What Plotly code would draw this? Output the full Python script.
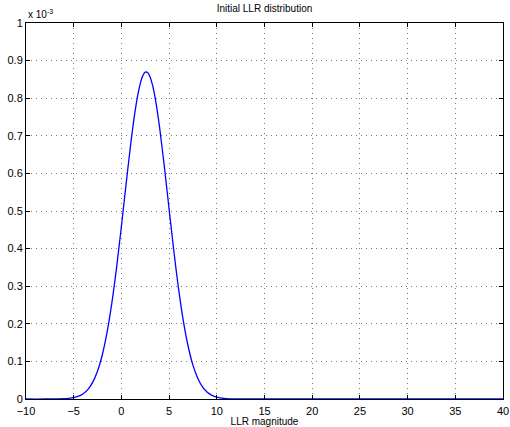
import plotly.graph_objs as go

# LLR magnitude samples and the pdf (in units of 1e-3)
llr_x = [-10, -8, -6, -5.5, -5, -4.5, -4, -3.5, -3, -2.5, -2, -1.5, -1, -0.5,
         0, 0.5, 1, 1.25, 1.5, 1.75, 2, 2.25, 2.5, 2.75, 3, 3.25, 3.5, 3.75,
         4, 4.5, 5, 5.5, 6, 6.5, 7, 7.5, 8, 8.5, 9, 9.5, 10, 10.5, 11, 12,
         14, 20, 30, 40]
llr_pdf_e3 = [0, 0, 0.0008, 0.0018, 0.0037, 0.0074, 0.0142, 0.0258, 0.0449,
              0.0745, 0.1177, 0.1777, 0.2556, 0.3508, 0.4592, 0.5734, 0.6830,
              0.7323, 0.7760, 0.8126, 0.8409, 0.8600, 0.8692, 0.8681, 0.8569,
              0.8360, 0.8059, 0.7678, 0.7229, 0.6185, 0.5048, 0.3929, 0.2917,
              0.2066, 0.1396, 0.0900, 0.0553, 0.0324, 0.0181, 0.0097, 0.0049,
              0.0024, 0.0011, 0.0002, 0, 0, 0, 0]

x_ticks = [-10, -5, 0, 5, 10, 15, 20, 25, 30, 35, 40]
y_ticks = [0, 0.1, 0.2, 0.3, 0.4, 0.5, 0.6, 0.7, 0.8, 0.9, 1]
y_labels = ['0', '0.1', '0.2', '0.3', '0.4', '0.5', '0.6', '0.7', '0.8', '0.9', '1']

FAMILY = 'Liberation Sans, Arial, sans-serif'
font = dict(family=FAMILY, size=11, color='black')

trace = go.Scatter(
    x=llr_x,
    y=[v * 1e-3 for v in llr_pdf_e3],
    mode='lines',
    line=dict(color='#0000ff', width=1.3, shape='spline', smoothing=1),
    showlegend=False,
)

axis_common = dict(
    showline=True, linecolor='black', linewidth=1, mirror='ticks',
    ticks='inside', ticklen=4, tickcolor='black',
    showgrid=True, gridcolor='#7a7a7a', griddash='1px,4px', gridwidth=1,
    zeroline=False, tickfont=font, automargin=False,
)

layout = go.Layout(
    width=510, height=427,
    margin=dict(l=26, r=7, t=23, b=28),
    paper_bgcolor='white', plot_bgcolor='white',
    font=font,
    title=dict(text='Initial LLR distribution', x=0.5, xanchor='center',
               xref='paper', y=0.988, yanchor='top',
               font=dict(family=FAMILY, size=10)),
    xaxis=dict(range=[-10, 40], tickvals=x_ticks, ticklabelstandoff=2,
               title=dict(text='LLR magnitude', standoff=0,
                          font=dict(family=FAMILY, size=10)),
               **axis_common),
    yaxis=dict(range=[0, 1e-3], tickvals=[t * 1e-3 for t in y_ticks],
               ticktext=y_labels, **axis_common),
    annotations=[dict(text='x 10<sup>-3</sup>', xref='paper', yref='paper',
                      x=0.0, y=1.0, xanchor='left', yanchor='bottom', yshift=1,
                      showarrow=False, font=dict(family=FAMILY, size=10))],
)

fig = go.Figure(data=[trace], layout=layout)
# drop the default page margin so the figure sits at the window's top-left
fig.write_html("out.html", config={'displayModeBar': False},
               post_script="document.body.style.margin='0';document.body.style.overflow='hidden';")
